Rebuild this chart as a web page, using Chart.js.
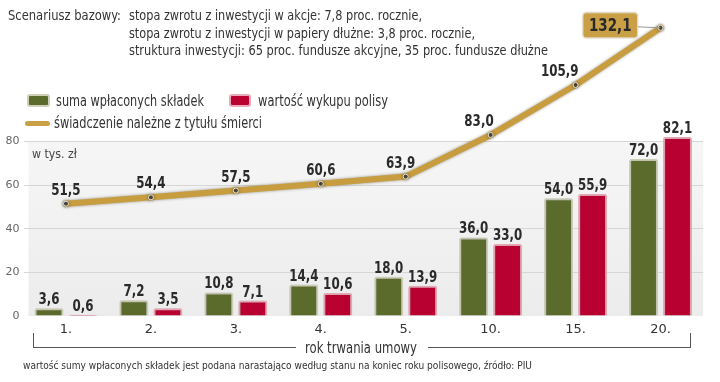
<!DOCTYPE html>
<html><head><meta charset="utf-8">
<script src="https://cdn.jsdelivr.net/npm/chart.js@4"></script>
<style>
html,body{margin:0;padding:0;background:#fff;}
#wrap{position:relative;width:720px;height:382px;overflow:hidden;}
canvas{position:absolute;left:0;top:0;}
.t{position:absolute;white-space:nowrap;font-family:"Liberation Sans Narrow","DejaVu Sans Condensed",sans-serif;color:#333;transform-origin:left center;}
.sq{position:absolute;border-radius:3px;box-sizing:border-box;}
.br{position:absolute;border-color:#555;border-style:solid;box-sizing:border-box;}
</style></head><body>
<div id="wrap">
<canvas id="c" width="720" height="382"></canvas>
<div class="t" data-w="113" style="left:8px;top:7px;font-size:14px;line-height:16px;">Scenariusz bazowy:</div>
<div class="t" data-w="293" style="left:129px;top:7px;font-size:14px;line-height:16px;">stopa zwrotu z inwestycji w akcje: 7,8 proc. rocznie,</div>
<div class="t" data-w="346" style="left:129px;top:25px;font-size:14px;line-height:16px;">stopa zwrotu z inwestycji w papiery dłużne: 3,8 proc. rocznie,</div>
<div class="t" data-w="419" style="left:129px;top:42px;font-size:14px;line-height:16px;">struktura inwestycji: 65 proc. fundusze akcyjne, 35 proc. fundusze dłużne</div>

<div class="sq" style="left:27px;top:94px;width:23px;height:13px;background:#5b6b2c;border:2px solid #cfcfba;"></div>
<div class="t" data-w="148" style="left:56px;top:92px;font-size:15px;line-height:18px;">suma wpłaconych składek</div>
<div class="sq" style="left:229px;top:94px;width:22px;height:13px;background:#b80031;border:2px solid #e8aab6;"></div>
<div class="t" data-w="130" style="left:258px;top:92px;font-size:15px;line-height:18px;">wartość wykupu polisy</div>
<div class="sq" style="left:25px;top:121px;width:25px;height:5px;background:#c9a045;border-radius:3px;"></div>
<div class="t" data-w="208" style="left:54px;top:114px;font-size:15px;line-height:18px;">świadczenie należne z tytułu śmierci</div>

<div class="t" data-w="45" style="left:32px;top:146px;font-size:13px;line-height:16px;color:#444;">w tys. zł</div>

<div class="br" style="left:33px;top:333px;width:263px;height:15px;border-width:0 0 1px 1px;"></div>
<div class="br" style="left:428px;top:333px;width:263px;height:15px;border-width:0 1px 1px 0;"></div>
<div class="t" data-w="112" style="left:305px;top:339px;font-size:15px;line-height:18px;">rok trwania umowy</div>
<div class="t" data-w="509" style="left:23px;top:359px;font-size:11px;line-height:14px;color:#333;">wartość sumy wpłaconych składek jest podana narastająco według stanu na koniec roku polisowego, źródło: PIU</div>
</div>
<script>
const categories = ['1.','2.','3.','4.','5.','10.','15.','20.'];
const sumaSkladek = [3.6, 7.2, 10.8, 14.4, 18.0, 36.0, 54.0, 72.0];
const wartoscWykupu = [0.6, 3.5, 7.1, 10.6, 13.9, 33.0, 55.9, 82.1];
const swiadczenie = [51.5, 54.4, 57.5, 60.6, 63.9, 83.0, 105.9, 132.1];
const yTickMax = 80;

function fmt(v){ return v.toFixed(1).replace('.', ','); }

document.querySelectorAll('[data-w]').forEach(el=>{
  const w = el.getBoundingClientRect().width;
  const t = +el.dataset.w;
  if (w>0) el.style.transform = 'scaleX(' + (t/w) + ')';
});

const bgPlugin = {
  id:'bg',
  beforeDraw(chart){
    const {ctx, chartArea:a, scales:{y}} = chart;
    const top = y.getPixelForValue(yTickMax), bot = y.getPixelForValue(0);
    const g = ctx.createLinearGradient(0, top, 0, bot);
    g.addColorStop(0, '#f6f6f6'); g.addColorStop(1, '#ececec');
    ctx.save(); ctx.fillStyle = g;
    ctx.fillRect(a.left+5, top, a.right-a.left-5, bot-top);
    ctx.restore();
  }
};

const shadowPlugin = {
  id:'shadow',
  beforeDatasetDraw(chart, args){
    const ctx = chart.ctx; ctx.save();
    if (args.index === 2){ ctx.shadowColor='rgba(70,60,30,0.55)'; ctx.shadowBlur=3; }
    else { ctx.shadowColor='rgba(0,0,0,0.18)'; ctx.shadowBlur=2; }
  },
  afterDatasetDraw(chart){ chart.ctx.restore(); }
};

function drawLabel(ctx, text, x, y, size, align){
  ctx.save();
  ctx.font = 'bold ' + size + 'px "DejaVu Sans Condensed", "DejaVu Sans", sans-serif';
  ctx.textBaseline = 'alphabetic';
  ctx.fillStyle = '#2a2a2a';
  const sx = 0.88;
  const w = ctx.measureText(text).width * sx;
  let left = align==='right' ? x - w : x - w/2;
  ctx.translate(left, y); ctx.scale(sx, 1);
  ctx.textAlign = 'left';
  ctx.fillText(text, 0, 0);
  ctx.restore();
  return w;
}

const labelPlugin = {
  id:'labels',
  afterDatasetsDraw(chart){
    const ctx = chart.ctx;
    [0,1].forEach(di=>{
      const meta = chart.getDatasetMeta(di);
      meta.data.forEach((el,i)=>{
        drawLabel(ctx, fmt(chart.data.datasets[di].data[i]), el.x, el.y-4, 15);
      });
    });
    const lm = chart.getDatasetMeta(2);
    const n = lm.data.length;
    lm.data.forEach((el,i)=>{
      const v = chart.data.datasets[2].data[i];
      if (i === n-1){
        ctx.save();
        ctx.font = 'bold 17px "DejaVu Sans Condensed", "DejaVu Sans", sans-serif';
        const tw = ctx.measureText(fmt(v)).width*0.88;
        const bw = tw + 12, bh = 25;
        const bx = el.x - 23 - bw, by = el.y - 15;
        ctx.strokeStyle = '#999'; ctx.lineWidth = 1;
        ctx.beginPath(); ctx.moveTo(bx+bw, el.y-1); ctx.lineTo(el.x, el.y); ctx.stroke();
        ctx.shadowColor='rgba(0,0,0,0.35)'; ctx.shadowBlur=2;
        ctx.fillStyle = '#c9a045';
        ctx.beginPath(); ctx.roundRect(bx, by, bw, bh, 3); ctx.fill();
        ctx.shadowBlur=0;
        ctx.strokeStyle = '#e4dcc4'; ctx.stroke();
        ctx.restore();
        drawLabel(ctx, fmt(v), bx + bw/2, by + bh/2 + 6, 17);
      } else if (i >= 5){
        drawLabel(ctx, fmt(v), el.x + 3, el.y - 9, 15, 'right');
      } else {
        drawLabel(ctx, fmt(v), el.x - (i===4?5:0), el.y - 9, 15);
      }
    });
  }
};

new Chart(document.getElementById('c'), {
  data:{
    labels: categories,
    datasets:[
      {type:'bar', label:'suma wpłaconych składek', data: sumaSkladek, backgroundColor:'#5b6b2c', borderColor:'#cfcfba', borderWidth:2, borderRadius:2, order:2, categoryPercentage:0.8, barPercentage:0.85},
      {type:'bar', label:'wartość wykupu polisy', data: wartoscWykupu, backgroundColor:'#b80031', borderColor:'#e8aab6', borderWidth:2, borderRadius:2, order:2, categoryPercentage:0.8, barPercentage:0.85},
      {type:'line', label:'świadczenie należne z tytułu śmierci', data: swiadczenie, borderColor:'#c89d40', borderWidth:6, tension:0, borderCapStyle:'round', borderJoinStyle:'round',
       pointRadius:2.5, pointBackgroundColor:'#4a4638', pointBorderColor:'#e8e4d8', pointBorderWidth:1, order:0}
    ]
  },
  options:{
    responsive:false, animation:false,
    layout:{padding:{top:8, right:17, bottom:40, left:0}},
    plugins:{legend:{display:false}, tooltip:{enabled:false}},
    scales:{
      x:{ grid:{display:false, drawTicks:false}, border:{display:false},
          ticks:{font:{family:'DejaVu Sans', size:13}, color:'#333', padding:6},
          afterFit(s){ s.height = 26; } },
      y:{ min:0, max:140,
          ticks:{stepSize:20, autoSkip:false, padding:4, color:'#666', font:{family:'DejaVu Sans', size:11},
                 callback:v => v <= yTickMax ? v : ''},
          grid:{drawTicks:false, color: c => (c.tick && c.tick.value>0 && c.tick.value<=yTickMax) ? '#d6d6d6' : 'rgba(0,0,0,0)'},
          border:{display:false},
          afterFit(s){ s.width = 23.5; } }
    }
  },
  plugins:[bgPlugin, shadowPlugin, labelPlugin]
});
</script>
</body></html>
